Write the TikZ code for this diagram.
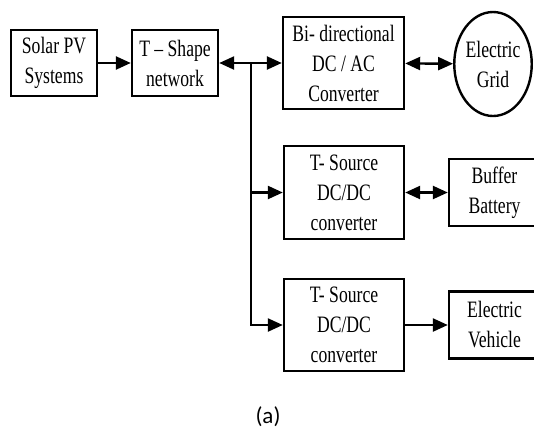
\documentclass[tikz,border=0pt]{standalone}
\usepackage{fontspec}
\setmainfont{Liberation Serif}[FakeStretch=0.75]
\newfontfamily\capfont{Carlito}
\usetikzlibrary{arrows.meta,shapes.geometric}
\tikzset{
  blk/.style={draw, line width=2.4pt, align=center, inner sep=0pt,
    font=\fontsize{23.5}{30}\selectfont},
  conn/.style={line width=2.4pt},
  tip/.style={-{Triangle[length=15pt,width=13pt]}},
  bitip/.style={{Triangle[length=15pt,width=13pt]}-{Triangle[length=15pt,width=13pt]}}
}
\begin{document}
\begin{tikzpicture}[x=1pt,y=1pt]
\useasboundingbox (0,0) rectangle (534,-432);
\fill[white] (0,0) rectangle (534,-432);
\node[blk, minimum width=86, minimum height=66] (solar) at (54,-63) {Solar PV\\Systems};
\node[blk, minimum width=86, minimum height=66] (tshape) at (175,-63) {T -- Shape\\network};
\node[blk, minimum width=121, minimum height=92] (bidir) at (343.5,-63) {Bi- directional\\DC / AC\\Converter};
\node[blk, ellipse, minimum width=76, minimum height=104] (grid) at (493,-64) {Electric\\Grid};
\node[blk, minimum width=120, minimum height=93] (mid) at (344,-192.5) {T- Source\\DC/DC\\converter};
\node[blk, minimum width=91, minimum height=67] (buf) at (494.5,-192.5) {Buffer\\Battery};
\node[blk, minimum width=120, minimum height=92] (bot) at (344,-325) {T- Source\\DC/DC\\converter};
\node[blk, minimum width=91, minimum height=67] (ev) at (494.5,-325) {Electric\\Vehicle};
\coordinate (j) at (251,-63);
\draw[conn, tip] (solar) -- (tshape);
\draw[conn, bitip] (tshape) -- (bidir);
\draw[conn, bitip] (bidir) -- (grid);
\draw[conn, tip] (j) |- (mid);
\draw[conn, tip] (j) |- (bot);
\draw[conn, bitip] (mid) -- (buf);
\draw[conn, tip] (bot) -- (ev);
\node[font=\capfont\fontsize{23}{27}\selectfont] (cap) at (268,-417) {(a)};
\end{tikzpicture}
\end{document}
